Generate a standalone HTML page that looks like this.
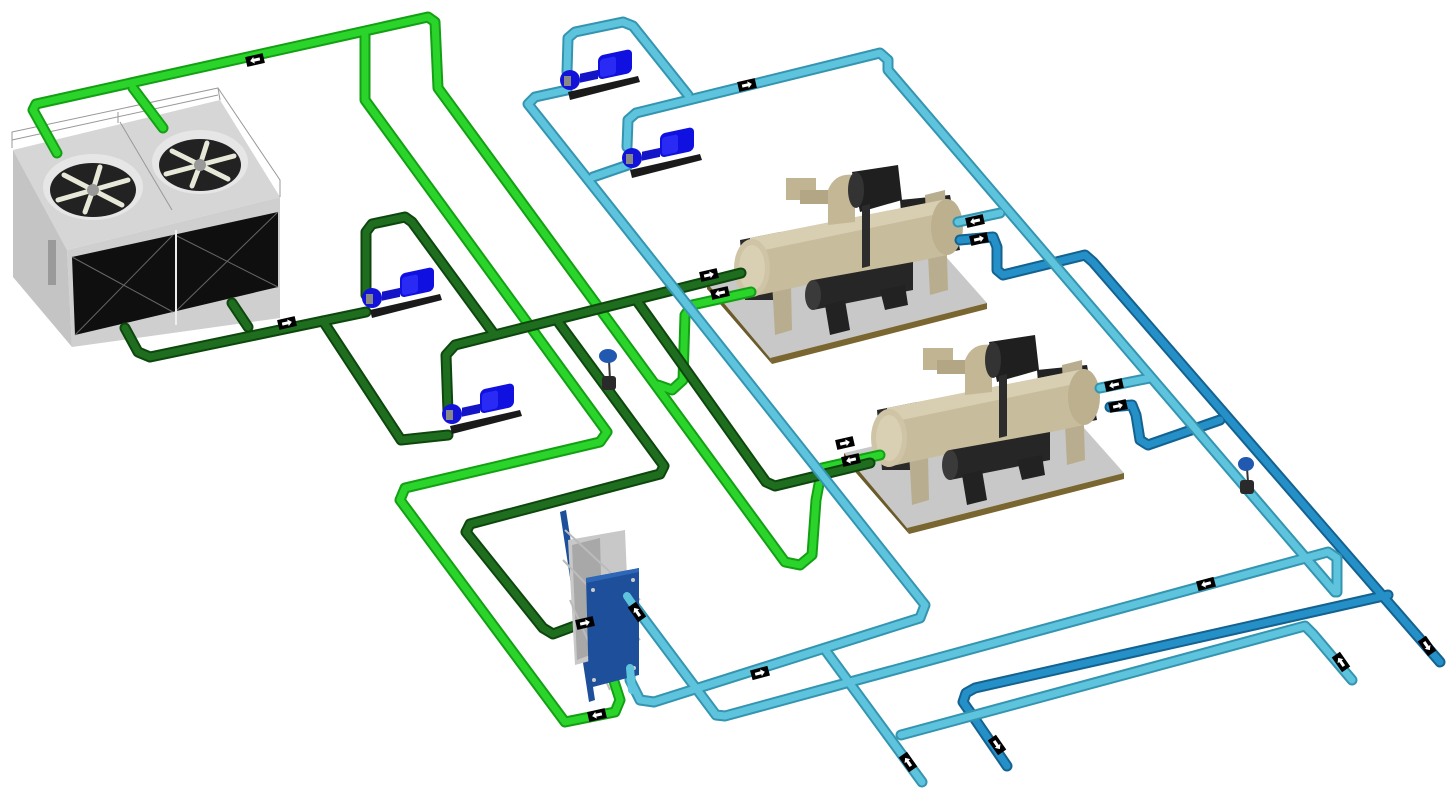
<!DOCTYPE html>
<html><head><meta charset="utf-8"><style>
html,body{margin:0;padding:0;background:#fff;}
svg{display:block;}
</style></head><body>
<svg width="1452" height="794" viewBox="0 0 1452 794" xmlns="http://www.w3.org/2000/svg">
<defs>
<g id="arr"><rect x="-9" y="-5" width="18" height="10" fill="#000"/><polygon points="-5,-1.5 1,-1.5 1,-3.5 5,0 1,3.5 1,1.5 -5,1.5" fill="#fff"/></g>
<g id="pump">
 <polygon points="8,30 78,14 80,20 10,38" fill="#1a1a1a"/>
 <rect x="38" y="2" width="34" height="24" rx="5" fill="#1010e0" transform="skewY(-12)"/>
 <rect x="40" y="6" width="16" height="18" rx="3" fill="#2a2af5" transform="skewY(-12)"/>
 <circle cx="10" cy="18" r="10" fill="#1212d8"/>
 <rect x="4" y="14" width="7" height="10" fill="#888"/>
 <rect x="20" y="16" width="18" height="9" fill="#1515c8" transform="skewY(-12)"/>
</g>
<g id="chiller">
 <polygon points="707,283 924,232 987,303 770,358" fill="#c8c8c8"/>
 <polygon points="707,283 770,358 772,364 707,289" fill="#6b5a2a"/>
 <polygon points="770,358 987,303 987,309 772,364" fill="#7a6630"/>
 <polygon points="740,240 780,232 780,300 745,300" fill="#2a2a2a"/>
 <polygon points="900,200 950,195 960,250 905,260" fill="#222"/>
 <polygon points="770,245 790,240 792,330 775,335" fill="#b8ad8e"/>
 <polygon points="925,195 945,190 948,290 930,295" fill="#b8ad8e"/>
 <polygon points="750,238 947,199 947,255 750,297" fill="#c7bc9c"/>
 <polygon points="750,238 947,199 947,212 750,253" fill="#d8ceb2"/>
 <ellipse cx="947" cy="227" rx="16" ry="28" fill="#bcb08e"/>
 <ellipse cx="752" cy="268" rx="18" ry="29" fill="#cfc4a6"/>
 <ellipse cx="752" cy="268" rx="13" ry="23" fill="#d9cfb3"/>
 <rect x="786" y="178" width="30" height="22" fill="#c0b493"/>
 <rect x="800" y="190" width="30" height="14" fill="#b2a684"/>
 <path d="M828,225 L828,190 Q835,172 855,175 L855,222 Z" fill="#c3b795"/>
 <path d="M852,172 L898,165 L902,200 L860,212 Z" fill="#1f1f1f"/>
 <ellipse cx="856" cy="190" rx="8" ry="18" fill="#333"/>
 <polygon points="862,206 870,204 870,266 862,268" fill="#2c2c2c"/>
 <polygon points="813,280 913,262 913,290 813,310" fill="#262626"/>
 <ellipse cx="813" cy="295" rx="8" ry="15" fill="#3a3a3a"/>
 <polygon points="825,305 845,300 850,330 830,335" fill="#222"/>
 <polygon points="880,290 905,285 908,305 885,310" fill="#222"/>
</g>
</defs>

<g>
 <polygon points="13,150 220,100 280,197 67,250" fill="#d6d6d6"/>
 <polygon points="13,150 67,250 72,347 13,277" fill="#c4c4c4"/>
 <polygon points="67,250 280,197 280,318 72,347" fill="#cfcfcf"/>
 <polygon points="72,257 278,212 278,287 75,335" fill="#0f0f0f"/>
 <line x1="72" y1="257" x2="173" y2="312" stroke="#666" stroke-width="1"/>
 <line x1="75" y1="335" x2="173" y2="235" stroke="#666" stroke-width="1"/>
 <line x1="175" y1="235" x2="278" y2="287" stroke="#666" stroke-width="1"/>
 <line x1="175" y1="312" x2="278" y2="212" stroke="#666" stroke-width="1"/>
 <line x1="176" y1="230" x2="176" y2="325" stroke="#eee" stroke-width="2"/>
 <rect x="48" y="240" width="8" height="45" fill="#9a9a9a"/>
 <ellipse cx="93" cy="187" rx="50" ry="33" fill="#e6e6e6"/>
 <ellipse cx="93" cy="190" rx="43" ry="27" fill="#222"/>
 <ellipse cx="200" cy="162" rx="48" ry="32" fill="#e6e6e6"/>
 <ellipse cx="200" cy="165" rx="41" ry="26" fill="#222"/>
 <g stroke="#e8e8d8" stroke-width="5" stroke-linecap="round">
  <line x1="93" y1="190" x2="128" y2="180"/><line x1="93" y1="190" x2="58" y2="200"/><line x1="93" y1="190" x2="100" y2="167"/><line x1="93" y1="190" x2="85" y2="212"/><line x1="93" y1="190" x2="122" y2="205"/><line x1="93" y1="190" x2="64" y2="175"/>
  <line x1="200" y1="165" x2="234" y2="156"/><line x1="200" y1="165" x2="166" y2="174"/><line x1="200" y1="165" x2="207" y2="143"/><line x1="200" y1="165" x2="192" y2="186"/><line x1="200" y1="165" x2="228" y2="179"/><line x1="200" y1="165" x2="172" y2="151"/>
 </g>
 <circle cx="93" cy="190" r="6" fill="#999"/><circle cx="200" cy="165" r="6" fill="#999"/>
 <g stroke="#999" stroke-width="1" fill="none">
  <polyline points="12,148 12,132 218,88 220,100"/>
  <polyline points="218,88 280,180 280,197"/>
  <line x1="12" y1="140" x2="218" y2="95"/>
  <polyline points="118,123 118,112"/>
  <line x1="120" y1="122" x2="172" y2="210"/>
 </g>
</g>

<use href="#chiller"/>
<use href="#chiller" transform="translate(137,170)"/>

<g fill="none" stroke-linejoin="round" stroke-linecap="round">
 <g stroke="#14a014" stroke-width="11">
  <polyline points="57,153 33,110 36,104 428,17 435,22 438,88 785,562 800,565 812,555 816,500 822,468 880,455"/>
  <polyline points="133,88 163,128"/>
  <polyline points="365,35 365,100 607,432 600,442 405,488 400,500 565,722 615,712 620,700 612,675"/>
  <polyline points="658,385 672,390 683,380 685,315 692,305 751,292"/>
 </g>
 <g stroke="#2bd42b" stroke-width="7">
  <polyline points="57,153 33,110 36,104 428,17 435,22 438,88 785,562 800,565 812,555 816,500 822,468 880,455"/>
  <polyline points="133,88 163,128"/>
  <polyline points="365,35 365,100 607,432 600,442 405,488 400,500 565,722 615,712 620,700 612,675"/>
  <polyline points="658,385 672,390 683,380 685,315 692,305 751,292"/>
 </g>
 <g stroke="#0e470e" stroke-width="11">
  <polyline points="125,328 138,352 150,357 366,312"/>
  <polyline points="232,303 248,327"/>
  <polyline points="323,321 401,440 448,435"/>
  <polyline points="366,295 366,232 372,224 405,217 412,222 494,334"/>
  <polyline points="448,412 446,355 455,345 741,273"/>
  <polyline points="559,323 664,466 660,474 470,524 466,532 543,628 553,634 612,612"/>
  <polyline points="637,301 766,482 775,486 870,463"/>
 </g>
 <g stroke="#1f6e1f" stroke-width="7">
  <polyline points="125,328 138,352 150,357 366,312"/>
  <polyline points="232,303 248,327"/>
  <polyline points="323,321 401,440 448,435"/>
  <polyline points="366,295 366,232 372,224 405,217 412,222 494,334"/>
  <polyline points="448,412 446,355 455,345 741,273"/>
  <polyline points="559,323 664,466 660,474 470,524 466,532 543,628 553,634 612,612"/>
  <polyline points="637,301 766,482 775,486 870,463"/>
 </g>
 <g stroke="#14628f" stroke-width="11">
  <polyline points="960,240 993,237 997,247 997,270 1003,275 1085,255 1093,262 1440,662"/>
  <polyline points="1110,407 1132,405 1136,415 1140,440 1148,445 1220,420"/>
  <polyline points="970,712 963,702 966,693 975,688 1388,595"/>
  <polyline points="970,712 1007,766"/>
 </g>
 <g stroke="#2590c8" stroke-width="7">
  <polyline points="960,240 993,237 997,247 997,270 1003,275 1085,255 1093,262 1440,662"/>
  <polyline points="1110,407 1132,405 1136,415 1140,440 1148,445 1220,420"/>
  <polyline points="970,712 963,702 966,693 975,688 1388,595"/>
  <polyline points="970,712 1007,766"/>
 </g>
 <g stroke="#3595b0" stroke-width="11">
  <polyline points="567,72 568,38 575,32 623,22 633,26 688,95"/>
  <polyline points="567,90 535,97 528,104 925,605 920,618 654,702 640,700 630,680 630,668"/>
  <polyline points="627,147 628,120 636,113 880,53 888,60 888,70 1335,592"/>
  <polyline points="627,596 716,715 725,716 1328,552 1337,558 1337,592"/>
  <polyline points="593,177 628,165"/>
  <polyline points="826,651 922,782"/>
  <polyline points="901,735 1305,626 1313,634 1352,680"/>
  <polyline points="958,222 1000,213"/>
  <polyline points="1100,388 1150,378"/>
 </g>
 <g stroke="#5ec3dc" stroke-width="7">
  <polyline points="567,72 568,38 575,32 623,22 633,26 688,95"/>
  <polyline points="567,90 535,97 528,104 925,605 920,618 654,702 640,700 630,680 630,668"/>
  <polyline points="627,147 628,120 636,113 880,53 888,60 888,70 1335,592"/>
  <polyline points="627,596 716,715 725,716 1328,552 1337,558 1337,592"/>
  <polyline points="593,177 628,165"/>
  <polyline points="826,651 922,782"/>
  <polyline points="901,735 1305,626 1313,634 1352,680"/>
  <polyline points="958,222 1000,213"/>
  <polyline points="1100,388 1150,378"/>
 </g>
</g>

<g>
 <polygon points="560,512 566,510 595,700 589,702" fill="#1d4f9a"/>
 <polygon points="568,540 625,530 630,650 575,665" fill="#c8c8c8"/>
 <polygon points="572,545 600,538 603,650 577,660" fill="#a8a8a8"/>
 <g stroke="#bbb" stroke-width="2"><line x1="565" y1="530" x2="640" y2="600"/><line x1="563" y1="560" x2="640" y2="640"/><line x1="570" y1="600" x2="610" y2="690"/></g>
 <polygon points="586,578 639,568 639,675 589,688" fill="#1d4f9a"/>
 <polygon points="586,578 639,568 639,572 586,583" fill="#2e66b8"/>
 <circle cx="593" cy="590" r="2" fill="#ccc"/><circle cx="633" cy="580" r="2" fill="#ccc"/><circle cx="594" cy="680" r="2" fill="#ccc"/><circle cx="634" cy="668" r="2" fill="#ccc"/>
</g>
<g fill="none" stroke-linecap="round">
 <polyline points="627,596 640,615" stroke="#5ec3dc" stroke-width="8"/>
 <polyline points="630,668 632,690" stroke="#5ec3dc" stroke-width="8"/>
</g>

<use href="#pump" transform="translate(560,62)"/>
<use href="#pump" transform="translate(622,140)"/>
<use href="#pump" transform="translate(362,280)"/>
<use href="#pump" transform="translate(442,396)"/>

<g>
 <line x1="609" y1="360" x2="610" y2="380" stroke="#333" stroke-width="2"/>
 <ellipse cx="608" cy="356" rx="9" ry="7" fill="#2158b0"/>
 <rect x="602" y="376" width="14" height="14" rx="3" fill="#2a2a2a"/>
 <line x1="1247" y1="468" x2="1248" y2="482" stroke="#333" stroke-width="2"/>
 <ellipse cx="1246" cy="464" rx="8" ry="7" fill="#2158b0"/>
 <rect x="1240" y="480" width="14" height="14" rx="3" fill="#2a2a2a"/>
</g>

<use href="#arr" transform="translate(255,60) rotate(-13) scale(-1,1)"/>
<use href="#arr" transform="translate(287,323) rotate(-13)"/>
<use href="#arr" transform="translate(709,275) rotate(-13)"/>
<use href="#arr" transform="translate(720,293) rotate(-13) scale(-1,1)"/>
<use href="#arr" transform="translate(845,443) rotate(-13)"/>
<use href="#arr" transform="translate(851,460) rotate(-13) scale(-1,1)"/>
<use href="#arr" transform="translate(597,715) rotate(-13) scale(-1,1)"/>
<use href="#arr" transform="translate(585,623) rotate(-13)"/>
<use href="#arr" transform="translate(747,85) rotate(-13)"/>
<use href="#arr" transform="translate(975,221) rotate(-13) scale(-1,1)"/>
<use href="#arr" transform="translate(979,239) rotate(-13)"/>
<use href="#arr" transform="translate(1114,385) rotate(-13) scale(-1,1)"/>
<use href="#arr" transform="translate(1118,406) rotate(-13)"/>
<use href="#arr" transform="translate(760,673) rotate(-15)"/>
<use href="#arr" transform="translate(1206,584) rotate(-15) scale(-1,1)"/>
<use href="#arr" transform="translate(637,612) rotate(-125)"/>
<use href="#arr" transform="translate(908,762) rotate(-125)"/>
<use href="#arr" transform="translate(997,745) rotate(55)"/>
<use href="#arr" transform="translate(1341,662) rotate(-125)"/>
<use href="#arr" transform="translate(1427,646) rotate(55)"/>
</svg>
</body></html>
